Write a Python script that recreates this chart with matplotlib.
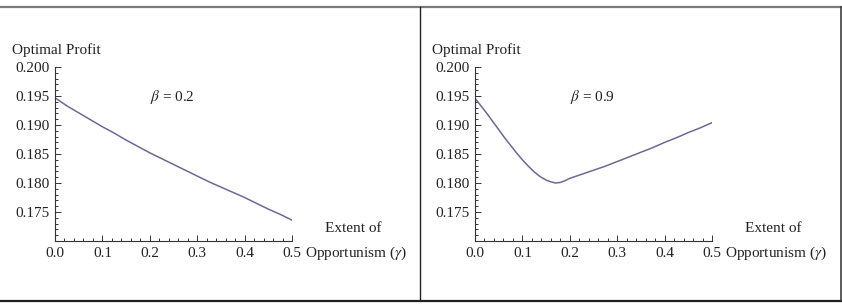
import matplotlib.pyplot as plt
import numpy as np
from matplotlib.lines import Line2D
from matplotlib.ticker import MultipleLocator

plt.rcParams['font.family'] = ['Liberation Serif', 'DejaVu Serif']
plt.rcParams['mathtext.fontset'] = 'stix'

# values
gamma_low = [0.0, 0.025, 0.05, 0.075, 0.1, 0.125, 0.15, 0.175, 0.2, 0.225, 0.25,
             0.275, 0.3, 0.325, 0.35, 0.375, 0.4, 0.425, 0.45, 0.475, 0.5]
profit_low = [0.1947, 0.1933, 0.1921, 0.1909, 0.1897, 0.1886, 0.1874, 0.1863, 0.1852,
              0.1842, 0.1832, 0.1822, 0.1812, 0.1802, 0.1793, 0.1784, 0.1775, 0.1765,
              0.1755, 0.1746, 0.1736]

gamma_high = [0.0, 0.0125, 0.025, 0.0375, 0.05, 0.0625, 0.075, 0.0875, 0.1, 0.1125,
              0.125, 0.1375, 0.15, 0.16, 0.17, 0.18, 0.19, 0.2, 0.225, 0.25, 0.275,
              0.3, 0.325, 0.35, 0.375, 0.4, 0.425, 0.45, 0.475, 0.5]
profit_high = [0.1946, 0.1933, 0.1920, 0.1906, 0.1892, 0.1878, 0.1865, 0.1852, 0.1840,
               0.1829, 0.1819, 0.1811, 0.1805, 0.1802, 0.1800, 0.1801, 0.1804, 0.1808,
               0.1815, 0.1822, 0.1829, 0.1837, 0.1845, 0.1853, 0.1861, 0.1870, 0.1878,
               0.1887, 0.1895, 0.1904]

panels = [(gamma_low, profit_low, r"$\beta$ = 0.2"),
          (gamma_high, profit_high, r"$\beta$ = 0.9")]

W, H = 842, 304
fig = plt.figure(figsize=(W / 100, H / 100), dpi=100)
fig.patch.set_facecolor('white')

# frame around the two panels
def hline(y, x0, x1, c, lw):
    fig.add_artist(Line2D([x0 / W, x1 / W], [1 - y / H, 1 - y / H], color=c, lw=lw))

def vline(x, y0, y1, c, lw):
    fig.add_artist(Line2D([x / W, x / W], [1 - y0 / H, 1 - y1 / H], color=c, lw=lw))

hline(7, 0, 841, '#7a7a7a', 1.6)
hline(300.5, 0, 841, '#202020', 1.6)
vline(420, 7, 300, '#202020', 1.0)
vline(840.5, 7, 300, '#404040', 1.2)

line_color = '#6a6a98'

for i, (gx, py, label) in enumerate(panels):
    left = 55 + i * 420
    ax = fig.add_axes([left / W, 1 - 241 / H, 237 / W, 174 / H])
    ax.plot(gx, py, color=line_color, lw=1.1, solid_joinstyle='round')
    ax.set_xlim(0, 0.5)
    ax.set_ylim(0.170, 0.200)
    ax.set_xticks([0.0, 0.1, 0.2, 0.3, 0.4, 0.5])
    ax.set_xticklabels(['0.0', '0.1', '0.2', '0.3', '0.4', '0.5'])
    ax.set_yticks([0.175, 0.180, 0.185, 0.190, 0.195, 0.200])
    ax.set_yticklabels(['0.175', '0.180', '0.185', '0.190', '0.195', '0.200'])
    ax.xaxis.set_minor_locator(MultipleLocator(0.02))
    ax.yaxis.set_minor_locator(MultipleLocator(0.001))
    ax.tick_params(which='both', direction='in', colors='#333333', labelcolor='#222222',
                   labelsize=11, width=0.7)
    ax.tick_params(which='major', length=4, pad=4)
    ax.tick_params(which='minor', length=2)
    for s in ['top', 'right']:
        ax.spines[s].set_visible(False)
    for s in ['left', 'bottom']:
        ax.spines[s].set_color('#333333')
        ax.spines[s].set_linewidth(0.8)
    ax.patch.set_alpha(0)

    ax.text(0.2, 0.1948, label, fontsize=11, ha='left', va='center', color='#222222')
    ax.text(-0.181, 1.098, 'Optimal Profit', transform=ax.transAxes, fontsize=11,
            ha='left', va='center', color='#222222')
    ax.text(1.257, 0.069, 'Extent of', transform=ax.transAxes, fontsize=11,
            ha='center', va='center', color='#222222')
    ax.text(1.055, -0.069, r'Opportunism ($\gamma$)', transform=ax.transAxes, fontsize=11,
            ha='left', va='center', color='#222222')

fig.savefig('out.png', dpi=100)
